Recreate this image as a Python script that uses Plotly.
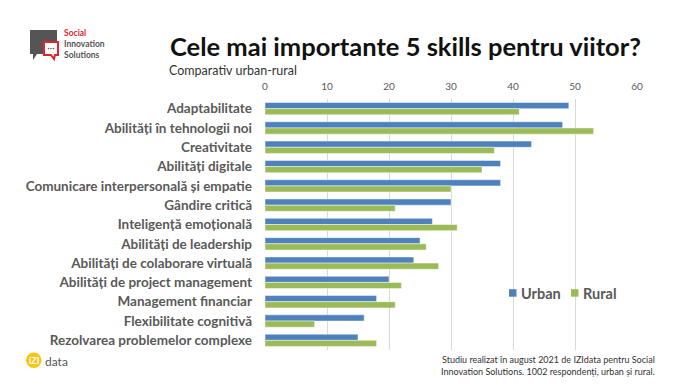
import plotly.graph_objects as go

categories = [
    "Adaptabilitate",
    "Abilități în tehnologii noi",
    "Creativitate",
    "Abilități digitale",
    "Comunicare interpersonală și empatie",
    "Gândire critică",
    "Inteligență emoțională",
    "Abilități de leadership",
    "Abilități de colaborare virtuală",
    "Abilități de project management",
    "Management financiar",
    "Flexibilitate cognitivă",
    "Rezolvarea problemelor complexe",
]
series_names = ["Urban", "Rural"]
urban = [49, 48, 43, 38, 38, 30, 27, 25, 24, 20, 18, 16, 15]
rural = [41, 53, 37, 35, 30, 21, 31, 26, 28, 22, 21, 8, 18]
x_ticks = [0, 10, 20, 30, 40, 50, 60]

W, H = 682, 384
L, R, T, B = 265, 45, 99, 34
PW, PH = W - L - R, H - T - B


def px(x):
    return (x - L) / PW


def py(y):
    return (H - B - y) / PH


BLUE = "#4F81BD"
GREEN = "#9BBB59"
GRAY = "#595959"
FONT = "Lato"
colors = [BLUE, GREEN]

fig = go.Figure()
for name, vals, col in zip(series_names, [urban, rural], colors):
    fig.add_trace(go.Bar(y=categories, x=vals, name=name, orientation="h",
                         marker=dict(color=col, line=dict(color="rgba(255,255,255,0.6)", width=0.8))))

fig.update_layout(
    width=W, height=H,
    margin=dict(l=L, r=R, t=T, b=B, autoexpand=False),
    paper_bgcolor="white", plot_bgcolor="white",
    barmode="group", bargap=0.36, bargroupgap=0,
    font=dict(family=FONT, color=GRAY),
    xaxis=dict(side="top", range=[0, 60], tickvals=x_ticks, ticktext=[str(v) for v in x_ticks],
               showgrid=True, gridcolor="#D9D9D9", gridwidth=1, zeroline=False,
               showline=False, ticks="", ticklabelstandoff=6, tickfont=dict(size=10, color=GRAY)),
    yaxis=dict(categoryorder="array", categoryarray=categories, autorange="reversed",
               showgrid=False, showline=False, ticks="", ticklabelstandoff=12,
               tickfont=dict(size=13.5, color=GRAY, family=FONT, weight="bold")),
    showlegend=False,
)

ann = []
ann.append(dict(text="<b>Cele mai importante 5 skills pentru viitor?</b>", x=px(168), y=py(46),
                xanchor="left", yanchor="middle", showarrow=False, xref="paper", yref="paper",
                font=dict(size=25.5, color="#111111", family=FONT)))
ann.append(dict(text="Comparativ urban-rural", x=px(167), y=py(70),
                xanchor="left", yanchor="middle", showarrow=False, xref="paper", yref="paper",
                font=dict(size=12.5, color="#333333", family=FONT)))
ann.append(dict(text="Studiu realizat în august 2021 de IZIdata pentru Social<br>Innovation Solutions. 1002 respondenți, urban și rural.",
                x=px(657), y=py(365.5), xanchor="right", yanchor="middle", align="right",
                showarrow=False, xref="paper", yref="paper",
                font=dict(size=9, color="#333333", family=FONT)))
# legend (drawn as text + squares)
legend_text_x = [519, 581]
legend_sq_x = [509, 571]
for name, col, tx in zip(series_names, colors, legend_text_x):
    ann.append(dict(text=f"<b>{name}</b>", x=px(tx), y=py(293), xanchor="left", yanchor="middle",
                    showarrow=False, xref="paper", yref="paper",
                    font=dict(size=14.5, color=GRAY, family=FONT)))
# logo text
ann.append(dict(text="<span style='color:#E3242B'><b>Social</b></span><br><b>Innovation</b><br><b>Solutions</b>",
                x=px(62), y=py(44), xanchor="left", yanchor="middle", align="left",
                showarrow=False, xref="paper", yref="paper",
                font=dict(size=8.5, color="#555555", family=FONT)))
# izidata logo text
ann.append(dict(text="<b>iZI</b>", x=px(34), y=py(360), xanchor="center", yanchor="middle",
                showarrow=False, xref="paper", yref="paper", font=dict(size=9, color="white", family=FONT)))
ann.append(dict(text="data", x=px(43), y=py(361), xanchor="left", yanchor="middle",
                showarrow=False, xref="paper", yref="paper", font=dict(size=12, color="#555555", family=FONT)))
fig.update_layout(annotations=ann)

shapes = []
for col, sx in zip(colors, legend_sq_x):
    shapes.append(dict(type="rect", xref="paper", yref="paper",
                       x0=px(sx), x1=px(sx + 7.5), y0=py(296.7), y1=py(289.2),
                       fillcolor=col, line=dict(width=0)))
# gray speech bubble
shapes.append(dict(type="path", xref="paper", yref="paper",
                   path=f"M {px(30)},{py(30)} L {px(57)},{py(30)} L {px(57)},{py(54)} L {px(37)},{py(54)} L {px(33)},{py(60)} L {px(33)},{py(54)} L {px(30)},{py(54)} Z",
                   fillcolor="#555555", line=dict(width=0)))
# red bubble
shapes.append(dict(type="path", xref="paper", yref="paper",
                   path=f"M {px(44)},{py(42)} L {px(58)},{py(42)} L {px(58)},{py(55)} L {px(55)},{py(55)} L {px(54)},{py(59)} L {px(51)},{py(55)} L {px(44)},{py(55)} Z",
                   fillcolor="white", line=dict(color="#E3242B", width=2)))
for cx in (48.5, 51, 53.5):
    shapes.append(dict(type="circle", xref="paper", yref="paper",
                       x0=px(cx - 0.8), x1=px(cx + 0.8), y0=py(49.3), y1=py(47.7),
                       fillcolor="#555555", line=dict(width=0)))
# izidata circle
shapes.append(dict(type="circle", xref="paper", yref="paper",
                   x0=px(26), x1=px(41.5), y0=py(368), y1=py(352.5),
                   fillcolor="#F9C513", line=dict(width=0)))
fig.update_layout(shapes=shapes)

fig.write_html("out.html", config={"displayModeBar": False},
               post_script="document.body.style.margin='0';document.body.style.overflow='hidden';")
